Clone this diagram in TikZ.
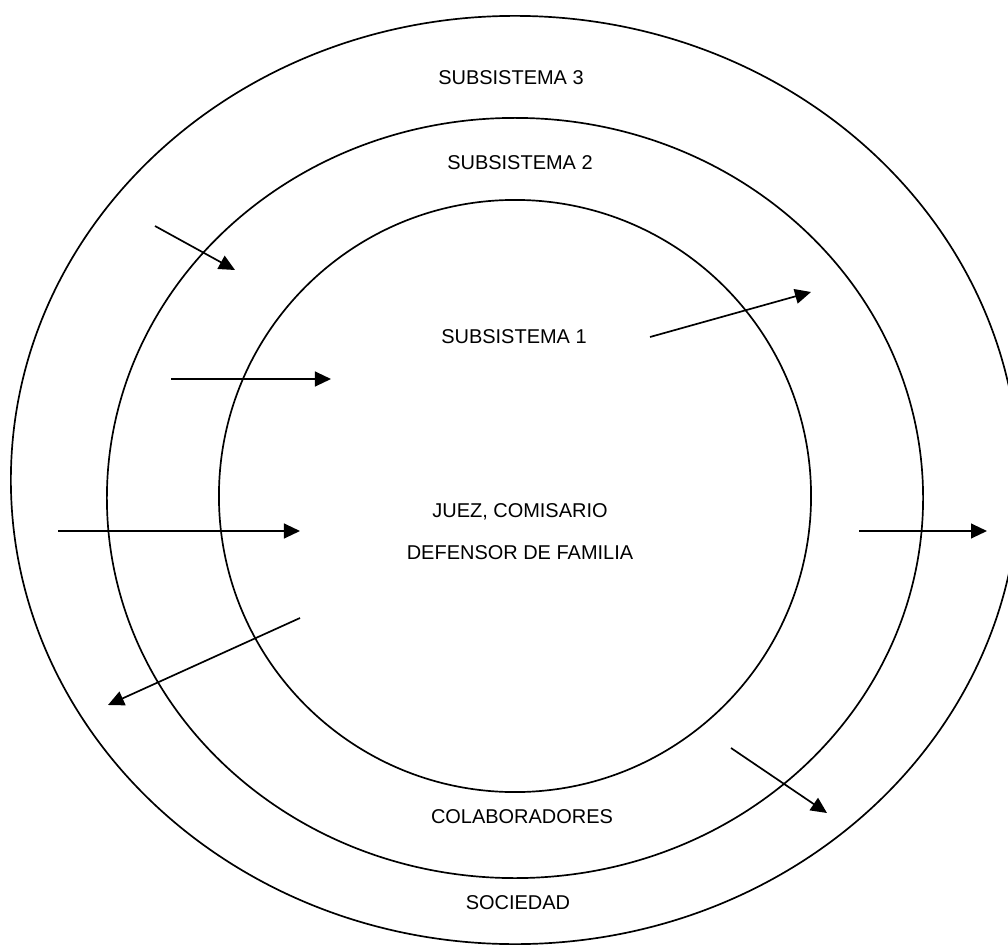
\documentclass[tikz,border=0pt]{standalone}
\usepackage{fontspec}
\setmainfont{Liberation Sans}
\usetikzlibrary{arrows.meta}

\begin{document}
\begin{tikzpicture}[
                        x=0.025cm, y=-0.025cm,
                        >={Triangle[length=0.4cm,width=0.37cm]},
                        ring/.style={draw, line width=1.2pt},
                        flow/.style={->, line width=1.2pt},
                        label/.style={font=\fontsize{14.2}{17}\selectfont, inner sep=0pt}
                    ]
                    \useasboundingbox (0,0) rectangle (1008,947);

                    % Rings
                    \draw [ring] (515,480) ellipse [x radius=12.6cm, y radius=11.6cm];
                    \draw [ring] (515,498) ellipse [x radius=10.2cm, y radius=9.5cm];
                    \draw [ring] (515,496) circle [radius=7.4cm];

                    % Labels
                    \node [label] (sub3) at (511,78) {SUBSISTEMA 3};
                    \node [label] (sub2) at (520,163) {SUBSISTEMA 2};
                    \node [label] (sub1) at (514,337) {SUBSISTEMA 1};
                    \node [label] (juez) at (520,512) {JUEZ, COMISARIO};
                    \node [label] (defensor) at (520,553) {DEFENSOR DE FAMILIA};
                    \node [label] (colab) at (522,817) {COLABORADORES};
                    \node [label] (sociedad) at (518,903) {SOCIEDAD};

                    % Arrow ends
                    \coordinate (a1) at (155,226);  \coordinate (b1) at (235,270);
                    \coordinate (a2) at (171,379);  \coordinate (b2) at (331,379);
                    \coordinate (a3) at (58,531);   \coordinate (b3) at (300,531);
                    \coordinate (a4) at (300,618);  \coordinate (b4) at (108,705);
                    \coordinate (a5) at (650,337);  \coordinate (b5) at (811,292);
                    \coordinate (a6) at (859,531);  \coordinate (b6) at (987,531);
                    \coordinate (a7) at (731,748);  \coordinate (b7) at (827,813);

                    % Connections
                    \foreach \i in {1,...,7}
                        \draw [flow] (a\i) -- (b\i);
                \end{tikzpicture}
\end{document}
